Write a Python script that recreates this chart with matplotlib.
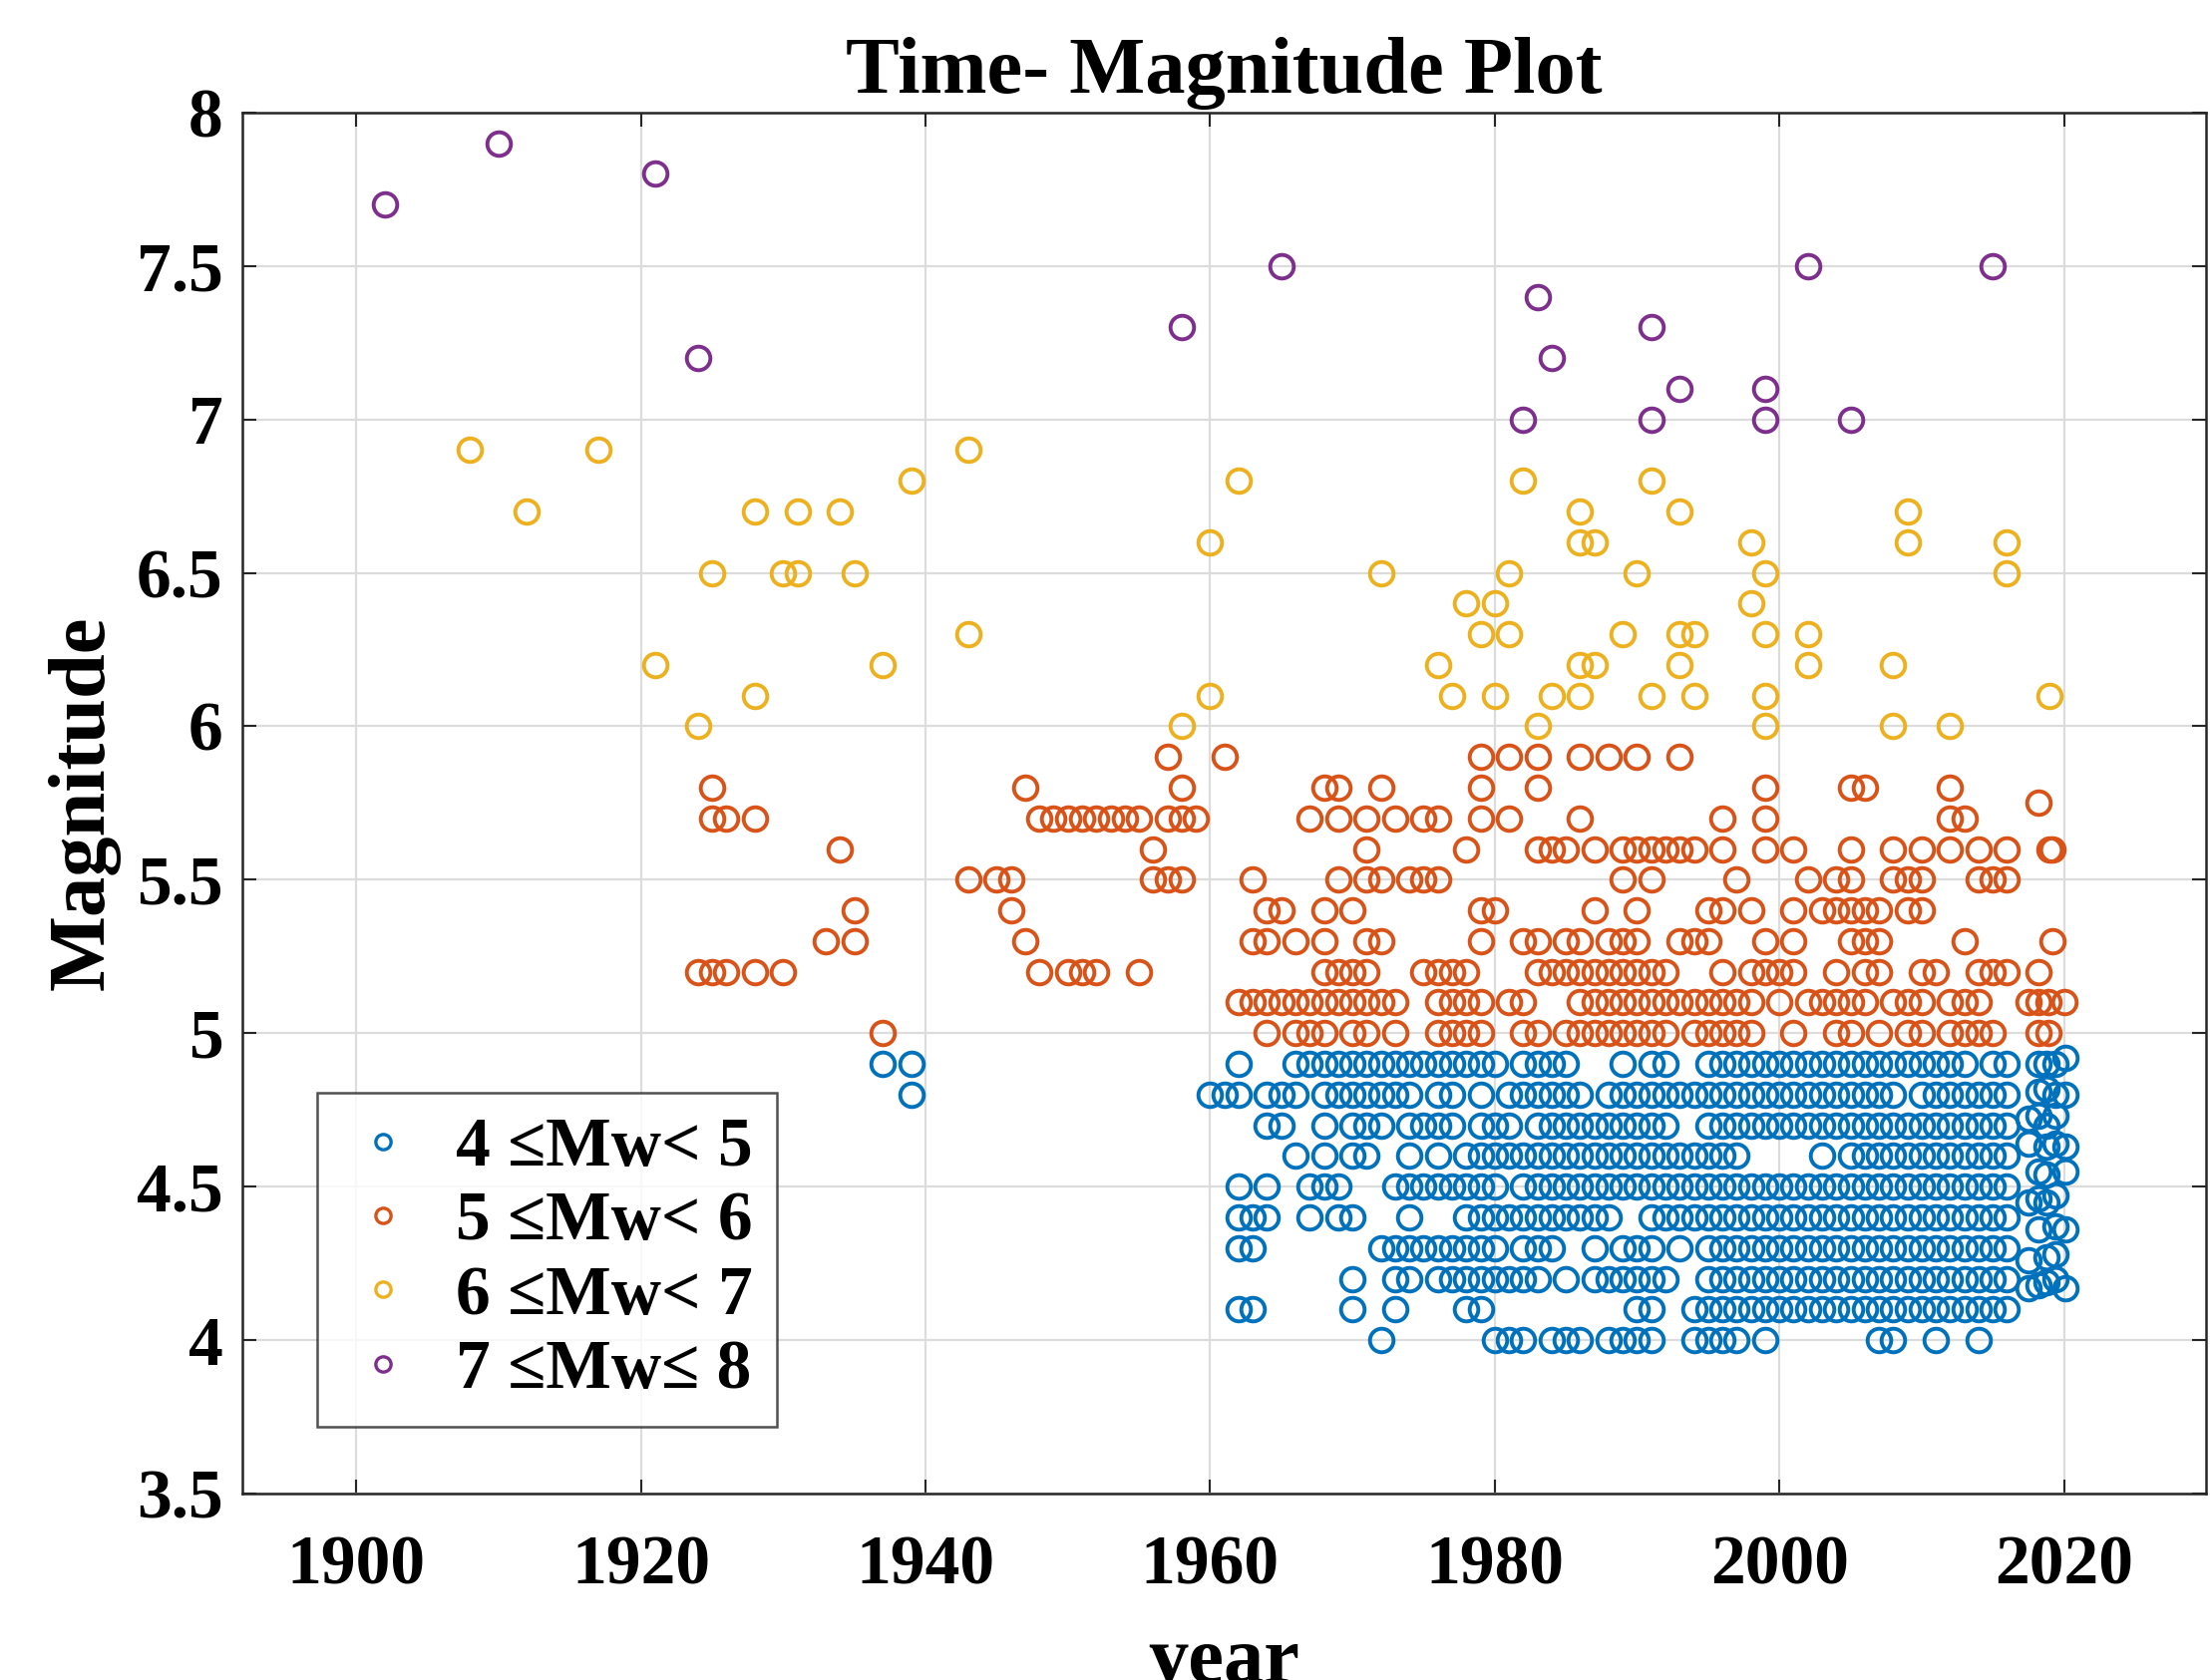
import matplotlib.pyplot as plt
from matplotlib.lines import Line2D

# Magnitude classes
labels = ["4 \u2264Mw< 5", "5 \u2264Mw< 6", "6 \u2264Mw< 7", "7 \u2264Mw\u2264 8"]
colors = ["#0072BD", "#D95319", "#EDB120", "#7E2F8E"]

# 7 <= Mw <= 8
p_years = [1902, 1910, 1921, 1924, 1958, 1965, 1982, 1983, 1984, 1991, 1991,
           1993, 1999, 1999, 2002, 2005, 2015]
p_mags = [7.7, 7.9, 7.8, 7.2, 7.3, 7.5, 7.0, 7.4, 7.2, 7.3, 7.0,
          7.1, 7.1, 7.0, 7.5, 7.0, 7.5]

# 6 <= Mw < 7
y_years = [1908, 1912, 1917, 1921, 1924, 1925, 1928, 1928, 1930, 1931, 1931,
           1934, 1935, 1937, 1939, 1943, 1943, 1958, 1960, 1960, 1962, 1972,
           1976, 1977, 1978, 1979, 1980, 1980, 1981, 1981, 1982, 1983, 1984,
           1986, 1986, 1987, 1986, 1987, 1986, 1989, 1990, 1991, 1991, 1993,
           1993, 1994, 1993, 1994, 1998, 1998, 1999, 1999, 1999, 1999, 2002,
           2002, 2008, 2008, 2009, 2009, 2012, 2016, 2016, 2019]
y_mags = [6.9, 6.7, 6.9, 6.2, 6.0, 6.5, 6.7, 6.1, 6.5, 6.5, 6.7,
          6.7, 6.5, 6.2, 6.8, 6.9, 6.3, 6.0, 6.1, 6.6, 6.8, 6.5,
          6.2, 6.1, 6.4, 6.3, 6.4, 6.1, 6.3, 6.5, 6.8, 6.0, 6.1,
          6.7, 6.6, 6.6, 6.2, 6.2, 6.1, 6.3, 6.5, 6.8, 6.1, 6.7,
          6.3, 6.3, 6.2, 6.1, 6.6, 6.4, 6.5, 6.3, 6.1, 6.0, 6.3,
          6.2, 6.2, 6.0, 6.7, 6.6, 6.0, 6.6, 6.5, 6.1]

# 5 <= Mw < 6, one list of years per magnitude row
o_59 = [1957, 1961, 1979, 1981, 1983, 1986, 1988, 1990, 1993]
o_58 = [1925, 1947, 1958, 1968, 1969, 1972, 1979, 1983, 1999, 2005, 2006, 2012]
o_57 = [1925, 1926, 1928, 1948, 1949, 1950, 1951, 1952, 1953, 1954, 1955,
        1957, 1958, 1959, 1967, 1969, 1971, 1973, 1975, 1976, 1979, 1981,
        1986, 1996, 1999, 2012, 2013]
o_56 = [1934, 1956, 1971, 1978, 1983, 1984, 1985, 1987, 1989, 1990, 1991,
        1992, 1993, 1994, 1996, 1999, 2001, 2005, 2008, 2010, 2012, 2014,
        2016, 2019]
o_55 = [1943, 1945, 1946, 1956, 1957, 1958, 1963, 1969, 1971, 1972, 1974,
        1975, 1976, 1989, 1991, 1997, 2002, 2004, 2005, 2008, 2009, 2010,
        2014, 2015, 2016]
o_54 = [1935, 1946, 1964, 1965, 1968, 1970, 1979, 1980, 1987, 1990, 1995,
        1996, 1998, 2001, 2003, 2004, 2005, 2006, 2007, 2009, 2010]
o_53 = [1933, 1935, 1947, 1963, 1964, 1966, 1968, 1971, 1972, 1979, 1982,
        1983, 1985, 1986, 1988, 1989, 1990, 1993, 1994, 1995, 1999, 2001,
        2005, 2006, 2007, 2013]
o_52 = [1924, 1925, 1926, 1928, 1930, 1948, 1950, 1951, 1952, 1955, 1968,
        1969, 1970, 1971, 1975, 1976, 1977, 1978, 1983, 1984, 1985, 1986,
        1987, 1988, 1989, 1990, 1991, 1992, 1996, 1998, 1999, 2000, 2001,
        2004, 2006, 2007, 2010, 2011, 2014, 2015, 2016]
o_51 = [1962, 1963, 1964, 1965, 1966, 1967, 1968, 1969, 1970, 1971, 1972,
        1973, 1976, 1977, 1978, 1979, 1981, 1982, 1986, 1987, 1988, 1989,
        1990, 1991, 1992, 1993, 1994, 1995, 1996, 1997, 1998, 2000, 2002,
        2003, 2004, 2005, 2006, 2008, 2009, 2010, 2012, 2013, 2014]
o_50 = [1937, 1964, 1966, 1967, 1968, 1970, 1971, 1973, 1976, 1977, 1978,
        1979, 1982, 1983, 1985, 1986, 1987, 1988, 1989, 1990, 1991, 1992,
        1994, 1995, 1996, 1997, 1998, 2001, 2004, 2005, 2007, 2009, 2010,
        2012, 2013, 2014, 2015]
o_edge_years = [2017.5, 2018.2, 2018.2, 2018.2, 2018.2, 2018.9, 2018.9, 2019.2,
                2019.2, 2020.0]
o_edge_mags = [5.1, 5.0, 5.1, 5.2, 5.75, 5.1, 5.0, 5.3, 5.6, 5.1]

# 4 <= Mw < 5, one list of years per magnitude row
b_49 = [1937, 1939, 1962, 1966, 1967, 1968, 1969, 1970, 1971, 1972, 1973,
        1974, 1975, 1976, 1977, 1978, 1979, 1980, 1982, 1983, 1984, 1985,
        1989, 1991, 1992, 1995, 1996, 1997, 1998, 1999, 2000, 2001, 2002,
        2003, 2004, 2005, 2006, 2007, 2008, 2009, 2010, 2011, 2012, 2013,
        2015, 2016]
b_48 = [1939, 1960, 1961, 1962, 1964, 1965, 1966, 1968, 1969, 1970, 1971,
        1972, 1973, 1974, 1976, 1977, 1979, 1981, 1982, 1983, 1984, 1985,
        1986, 1988, 1989, 1990, 1991, 1992, 1993, 1994, 1995, 1996, 1997,
        1998, 1999, 2000, 2001, 2002, 2003, 2004, 2005, 2006, 2007, 2008,
        2010, 2011, 2012, 2013, 2014, 2015, 2016]
b_47 = [1964, 1965, 1968, 1970, 1971, 1972, 1974, 1975, 1976, 1977, 1979,
        1980, 1981, 1983, 1984, 1985, 1986, 1987, 1988, 1989, 1990, 1991,
        1992, 1995, 1996, 1997, 1998, 1999, 2000, 2001, 2002, 2003, 2004,
        2005, 2006, 2007, 2008, 2009, 2010, 2011, 2012, 2013, 2014, 2015,
        2016]
b_46 = [1966, 1968, 1970, 1971, 1974, 1976, 1978, 1979, 1980, 1981, 1982,
        1983, 1984, 1985, 1986, 1987, 1988, 1989, 1990, 1991, 1992, 1993,
        1994, 1995, 1996, 1997, 2003, 2005, 2006, 2007, 2008, 2009, 2010,
        2011, 2012, 2013, 2014, 2015, 2016]
b_45 = [1962, 1964, 1967, 1968, 1969, 1973, 1974, 1975, 1976, 1977, 1978,
        1979, 1980, 1982, 1983, 1984, 1985, 1986, 1987, 1988, 1989, 1990,
        1991, 1992, 1993, 1994, 1995, 1996, 1997, 1998, 1999, 2000, 2001,
        2002, 2003, 2004, 2005, 2006, 2007, 2008, 2009, 2010, 2011, 2012,
        2013, 2014, 2015, 2016]
b_44 = [1962, 1963, 1964, 1967, 1969, 1970, 1974, 1978, 1979, 1980, 1981,
        1982, 1983, 1984, 1985, 1986, 1987, 1988, 1991, 1992, 1993, 1994,
        1995, 1996, 1997, 1998, 1999, 2000, 2001, 2002, 2003, 2004, 2005,
        2006, 2007, 2008, 2009, 2010, 2011, 2012, 2013, 2014, 2015, 2016]
b_43 = [1962, 1963, 1972, 1973, 1974, 1975, 1976, 1977, 1978, 1979, 1980,
        1982, 1983, 1984, 1987, 1989, 1990, 1991, 1993, 1995, 1996, 1997,
        1998, 1999, 2000, 2001, 2002, 2003, 2004, 2005, 2006, 2007, 2008,
        2009, 2010, 2011, 2012, 2013, 2014, 2015, 2016]
b_42 = [1970, 1973, 1974, 1976, 1977, 1978, 1979, 1980, 1981, 1982, 1983,
        1985, 1987, 1988, 1989, 1990, 1991, 1992, 1995, 1996, 1997, 1998,
        1999, 2000, 2001, 2002, 2003, 2004, 2005, 2006, 2007, 2008, 2009,
        2010, 2011, 2012, 2013, 2014, 2015, 2016]
b_41 = [1962, 1963, 1970, 1973, 1978, 1979, 1990, 1991, 1994, 1995, 1996,
        1997, 1998, 1999, 2000, 2001, 2002, 2003, 2004, 2005, 2006, 2007,
        2008, 2009, 2010, 2011, 2012, 2013, 2014, 2015, 2016]
b_40 = [1972, 1980, 1981, 1982, 1984, 1985, 1986, 1988, 1989, 1990, 1991,
        1994, 1995, 1996, 1997, 1999, 2007, 2008, 2011, 2014]
b_edge_years = [2017.5, 2017.5, 2017.5, 2017.5, 2017.5,
                2018.2, 2018.2, 2018.2, 2018.2, 2018.2, 2018.2, 2018.2,
                2018.8, 2018.8, 2018.8, 2018.8, 2018.8, 2018.8, 2018.8, 2018.8,
                2019.4, 2019.4, 2019.4, 2019.4, 2019.4, 2019.4, 2019.4, 2019.4,
                2020.1, 2020.1, 2020.1, 2020.1, 2020.1, 2020.1]
b_edge_mags = [4.72, 4.64, 4.45, 4.26, 4.17,
               4.9, 4.81, 4.73, 4.55, 4.46, 4.36, 4.18,
               4.9, 4.82, 4.7, 4.63, 4.54, 4.45, 4.27, 4.19,
               4.9, 4.8, 4.73, 4.64, 4.47, 4.37, 4.28, 4.2,
               4.92, 4.8, 4.63, 4.55, 4.36, 4.17]

orange_rows = [(5.9, o_59), (5.8, o_58), (5.7, o_57), (5.6, o_56), (5.5, o_55),
               (5.4, o_54), (5.3, o_53), (5.2, o_52), (5.1, o_51), (5.0, o_50)]
blue_rows = [(4.9, b_49), (4.8, b_48), (4.7, b_47), (4.6, b_46), (4.5, b_45),
             (4.4, b_44), (4.3, b_43), (4.2, b_42), (4.1, b_41), (4.0, b_40)]


def expand(rows, edge_x, edge_y):
    xs, ys = [], []
    for mag, yrs in rows:
        xs += yrs
        ys += [mag] * len(yrs)
    return xs + edge_x, ys + edge_y


b_x, b_y = expand(blue_rows, b_edge_years, b_edge_mags)
o_x, o_y = expand(orange_rows, o_edge_years, o_edge_mags)

plt.rcParams["font.family"] = "Liberation Serif"
plt.rcParams["font.weight"] = "bold"

fig = plt.figure(figsize=(22.16, 16.85), dpi=100)
ax = fig.add_axes([0.1097, 0.111, 0.8886, 0.822])

style = dict(linestyle="none", marker="o", markersize=17, markeredgewidth=2.8,
             markerfacecolor="none")
series = [(b_x, b_y), (o_x, o_y), (y_years, y_mags), (p_years, p_mags)]
for (xs, ys), c in zip(series, colors):
    ax.plot(xs, ys, markeredgecolor=c, **style)

ax.set_xlim(1892, 2030)
ax.set_ylim(3.5, 8)
ax.set_xticks([1900, 1920, 1940, 1960, 1980, 2000, 2020])
ax.set_yticks([3.5, 4, 4.5, 5, 5.5, 6, 6.5, 7, 7.5, 8])
ax.set_yticklabels(["3.5", "4", "4.5", "5", "5.5", "6", "6.5", "7", "7.5", "8"])
ax.grid(True, color="#dcdcdc", linewidth=1.6)
ax.set_axisbelow(True)
ax.tick_params(direction="in", top=True, right=True, length=10, width=1.5,
               color="#262626", labelsize=50)
ax.tick_params(axis="x", pad=30)
ax.tick_params(axis="y", pad=14)
for sp in ax.spines.values():
    sp.set_color("#262626")
    sp.set_linewidth(1.8)

ax.set_title("Time- Magnitude Plot", fontsize=58, fontweight="bold", pad=14)
ax.set_xlabel("year", fontsize=58, fontweight="bold", labelpad=20)
ax.set_ylabel("Magnitude", fontsize=58, fontweight="bold", labelpad=12)

handles = [Line2D([], [], linestyle="none", marker="o", markersize=11,
                  markeredgewidth=2.4, markerfacecolor="none", markeredgecolor=c)
           for c in colors]
leg = ax.legend(handles, labels, loc="lower left", bbox_to_anchor=(0.038, 0.048),
                fontsize=50, frameon=True, fancybox=False, edgecolor="#262626",
                handlelength=1.2, handletextpad=0.45, borderpad=0.35,
                labelspacing=0.15, borderaxespad=0)
leg.get_frame().set_linewidth(1.8)

fig.savefig("out.png", dpi=100)
